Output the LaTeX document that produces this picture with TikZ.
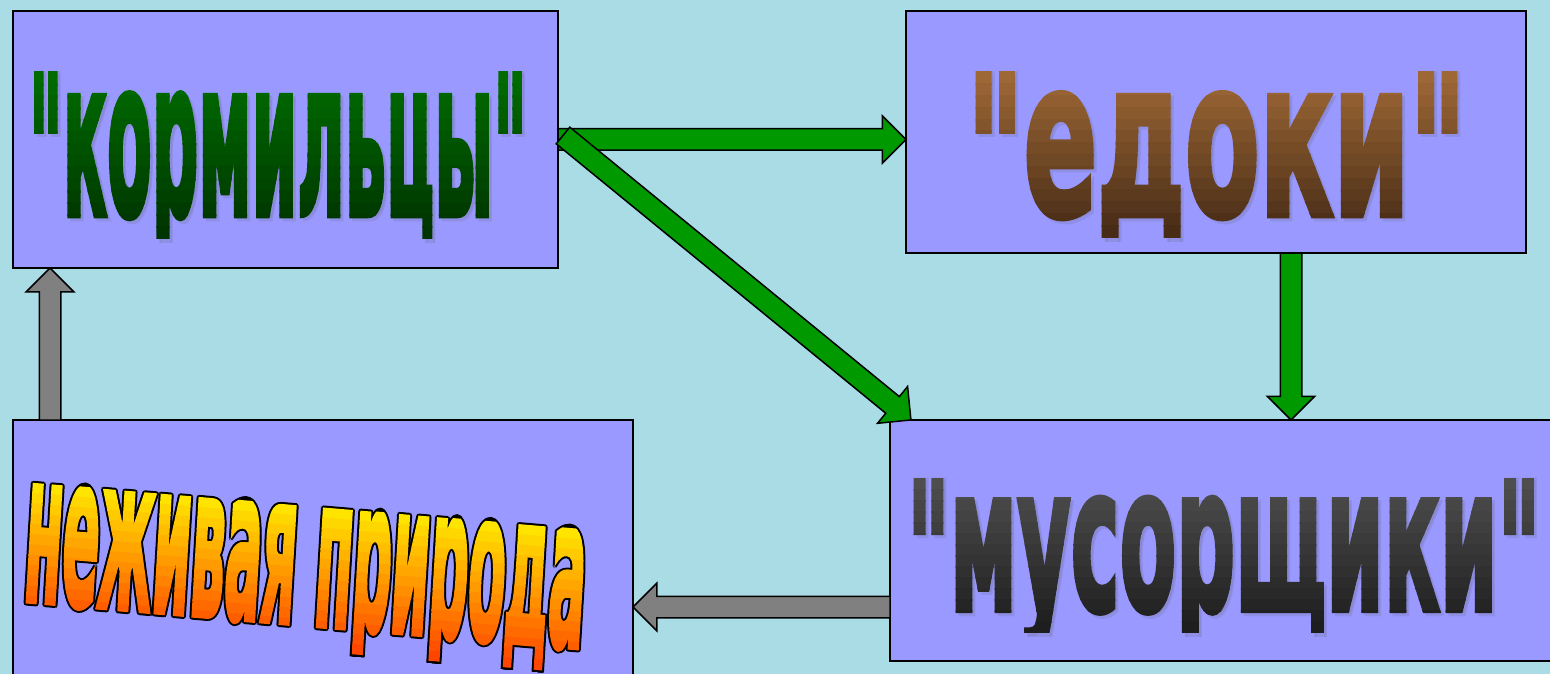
\documentclass[tikz,border=0pt]{standalone}
\usepackage{fontspec}
\setmainfont{DejaVu Sans}[Ligatures=TeXOff]
\newfontfamily\wordfont{DejaVu Sans}[Ligatures=TeXOff, BoldFeatures={FakeBold=3}]
\usepackage{graphicx}
\usetikzlibrary{calc,shapes.arrows}

\definecolor{water}{RGB}{170,220,230}
\definecolor{panelblue}{RGB}{153,153,255}
\definecolor{arrowgreen}{RGB}{0,153,0}
\definecolor{arrowgray}{RGB}{128,128,128}
\definecolor{greentop}{RGB}{0,108,0}
\definecolor{greenbot}{RGB}{0,52,0}
\definecolor{browntop}{RGB}{158,104,54}
\definecolor{brownbot}{RGB}{72,44,22}
\definecolor{graytop}{RGB}{78,78,78}
\definecolor{graybot}{RGB}{30,30,30}
\definecolor{orangetop}{RGB}{255,228,0}
\definecolor{orangebot}{RGB}{255,70,0}
\definecolor{glow}{RGB}{120,120,170}

\newcommand\qmark{\raisebox{-0.07em}{"}}
\newcommand\setword[3]{\def\theword{\resizebox{#1}{#2}{\wordfont\bfseries #3}}}

% word in \theword, filled in horizontal bands from top colour to bottom colour
\newcommand\gradword[7]{%
  \foreach \i in {0,...,13}{%
    \pgfmathtruncatemacro\mix{100-\i*100/13}
    \pgfmathsetmacro\over{\i<13 ? 1.5 : 0}
    \begin{scope}
      \clip ({#2-30},{#4+(#5-#4)*\i/14}) rectangle ({#2+700},{#4+(#5-#4)*(\i+1)/14+\over});
      \node[wordtext, text=#6!\mix!#7] (#1-\i) at (#2,#3) {\theword};
    \end{scope}}}

% soft shadow of \theword, cut at the bottom line
\newcommand\glowword[4]{%
  \begin{scope}
    \clip ({#2-30},{#3-200}) rectangle ({#2+700},#4);
    \node[wordtext, text=glow, opacity=.3] (#1) at (#2+3,#3+3) {\theword};
  \end{scope}}

% fat arrow from one point to another
\newcommand\blockarrow[4]{%
  \path let \p1=($(#4)-(#3)$), \n1={veclen(\x1,\y1)}, \n2={atan2(\y1,\x1)} in
    node[blockarrow, fill=#2, minimum height=\n1, rotate=\n2, anchor=tail] (#1) at (#3) {};}

\begin{document}
\begin{tikzpicture}[x=1pt,y=-1pt,
    panel/.style={draw=black, line width=1.2pt, fill=panelblue, anchor=north west,
      inner sep=0pt, outer sep=0pt},
    wordtext/.style={anchor=base west, inner sep=0pt, outer sep=0pt, transform shape},
    blockarrow/.style={single arrow, draw=black, line width=1.5pt, inner sep=10pt,
      outer sep=0pt, single arrow head extend=13pt}]

  \fill[water] (0,0) rectangle (1550,674);
  \useasboundingbox (0,0) rectangle (1550,674);

  %Boxes
  \node[panel, minimum width=545pt, minimum height=257pt] (korm) at (13,11) {};
  \node[panel, minimum width=620pt, minimum height=242pt] (edoki) at (906,11) {};
  \node[panel, minimum width=662pt, minimum height=241pt] (musor) at (890,420) {};
  \node[panel, minimum width=620pt, minimum height=264pt] (nezhiv) at (13,420) {};

  %Arrow ends
  \coordinate (k-out) at (korm.east);
  \coordinate (e-in) at (edoki.west |- k-out);
  \coordinate (k-diag) at ($(korm.east)+(5,-4)$);
  \coordinate (m-diag) at ($(musor.north west)+(21,0)$);
  \coordinate (e-down) at ($(edoki.south west)+(385,0)$);
  \coordinate (m-top) at (e-down |- musor.north);
  \coordinate (m-out) at ($(musor.south west)+(0,-54)$);
  \coordinate (n-in) at (nezhiv.east |- m-out);
  \coordinate (n-top) at ($(nezhiv.north west)+(37,0)$);
  \coordinate (k-bot) at (n-top |- korm.south);

  %Arrows
  \blockarrow{a1}{arrowgreen}{k-out}{e-in}
  \blockarrow{a2}{arrowgreen}{k-diag}{m-diag}
  \blockarrow{a3}{arrowgreen}{e-down}{m-top}
  \blockarrow{a4}{arrowgray}{m-out}{n-in}
  \blockarrow{a5}{arrowgray}{n-top}{k-bot}

  %"кормильцы"
  \setword{498pt}{143pt}{\qmark кормильцы\qmark}
  \glowword{korm-s}{29}{215}{242}
  \gradword{korm-t}{29}{215}{72}{238}{greentop}{greenbot}

  %"едоки"
  \setword{499pt}{143pt}{\qmark едоки\qmark}
  \glowword{edoki-s}{967}{215}{241}
  \gradword{edoki-t}{967}{215}{72}{237}{browntop}{brownbot}

  %"мусорщики"
  \setword{633pt}{132pt}{\qmark мусорщики\qmark}
  \glowword{musor-s}{907}{610}{636}
  \gradword{musor-t}{907}{610}{478}{632}{graytop}{graybot}

  %неживая природа, slanted word art
  \begin{scope}[shift={(22,600)}, cm={1,-0.085,0.06,1,(0,0)}]
    \setword{560pt}{117pt}{неживая природа}
    \begin{scope}
      \clip (-30,-130) rectangle (700,28);
      \foreach \dx/\dy [count=\k] in {-2/0,2/0,0/-2,0/2,-1.4/-1.4,1.4/-1.4,-1.4/1.4,1.4/1.4}
        \node[wordtext, text=black] (nezhiv-o\k) at (\dx,\dy) {\theword};
    \end{scope}
    \gradword{nezhiv-t}{0}{0}{-118}{26}{orangetop}{orangebot}
  \end{scope}

\end{tikzpicture}
\end{document}
